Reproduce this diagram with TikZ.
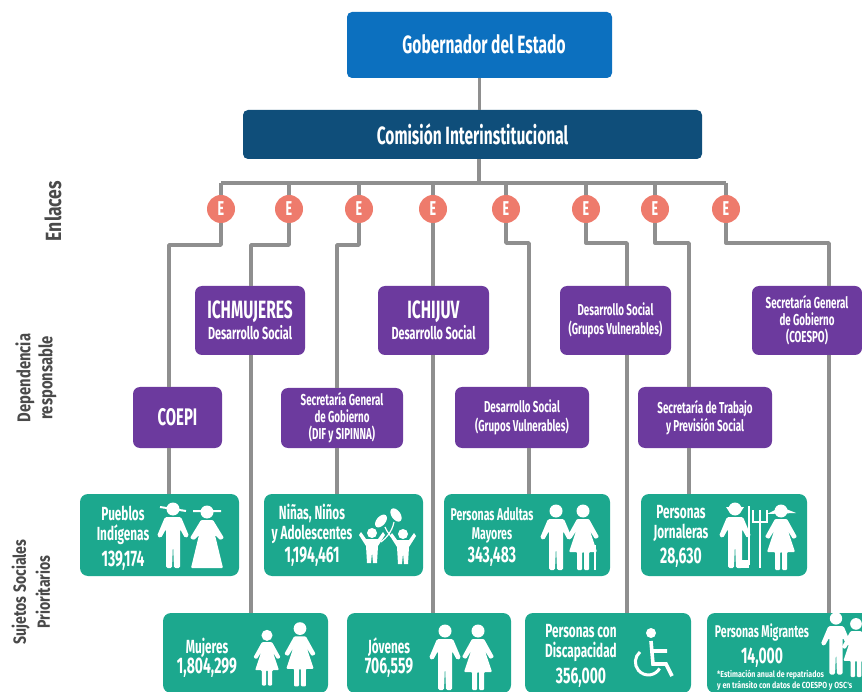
\documentclass[tikz,border=0pt]{standalone}
\usepackage{fontspec}
\setmainfont{Fira Sans}[FakeStretch=0.62]
\newfontfamily\anchofont{Fira Sans}[FakeStretch=0.8]
\newcommand{\cifra}[1]{{\fontsize{22.5}{24}\selectfont #1}}
\definecolor{azul}{HTML}{0C70BF}
\definecolor{marino}{HTML}{0F4E7A}
\definecolor{morado}{HTML}{6C3A9E}
\definecolor{verde}{HTML}{1CA88E}
\definecolor{salmon}{HTML}{EE7B6C}
\definecolor{linea}{HTML}{8F8F8F}
\definecolor{rotulo}{HTML}{4A4A4A}
\tikzset{
  jefe/.style={rounded corners=5pt, inner sep=0pt, text=white, font=\bfseries\fontsize{25}{28}\selectfont},
  dependencia/.style={fill=morado, rounded corners=7pt, inner sep=0pt, text=white, align=center, font=\bfseries\fontsize{15.8}{17}\selectfont},
  dosrenglones/.style={dependencia, font=\bfseries\fontsize{15.8}{18.5}\selectfont},
  titular/.style={dependencia, font=\bfseries\fontsize{17.5}{21}\selectfont},
  sujeto/.style={fill=verde, rounded corners=8pt, inner sep=0pt},
  sujetotxt/.style={text=white, align=center, font=\bfseries\fontsize{19}{20}\selectfont},
  enlace/.style={circle, fill=salmon, minimum size=28pt, inner sep=0pt, text=white, font=\bfseries\fontsize{20}{20}\selectfont},
  conector/.style={draw=linea, line width=3.4pt},
  rotulolado/.style={rotate=90, text=rotulo, align=center},
  pics/hombre/.style={code={
    \fill[white] (0,-29) circle (6.5);
    \fill[white, rounded corners=1.5pt] (-8,-21) -- (8,-21) -- (16,-2) -- (12,0) -- (7,-9) -- (7,30) -- (1,30) -- (0,5) -- (-1,30) -- (-7,30) -- (-7,-9) -- (-12,0) -- (-16,-2) -- cycle;
  }},
  pics/mujer/.style={code={
    \fill[white] (0,-29) circle (6.5);
    \fill[white, rounded corners=1pt] (-6,-21) -- (6,-21) -- (16,-3) -- (12,-1) -- (7,-9) -- (14,12) -- (6,12) -- (6,30) -- (1,30) -- (1,12) -- (-1,12) -- (-1,30) -- (-6,30) -- (-6,12) -- (-14,12) -- (-7,-9) -- (-12,-1) -- (-16,-3) -- cycle;
  }},
  pics/mujerlarga/.style={code={
    \fill[white] (0,-29) circle (6.5);
    \fill[white, rounded corners=1pt] (-6,-21) -- (6,-21) -- (17,-3) -- (13,-1) -- (8,-6) -- (16,27) -- (-16,27) -- (-8,-6) -- (-13,-1) -- (-17,-3) -- cycle;
  }},
  pics/nino/.style={code={
    \fill[white] (0,-11) circle (5);
    \fill[white] (-6,-5) -- (6,-5) -- (11,-12) -- (13,-9) -- (6,2) -- (5,19) -- (1,19) -- (0,8) -- (-1,19) -- (-5,19) -- (-6,2) -- (-13,-9) -- (-11,-12) -- cycle;
  }},
}
\begin{document}
\begin{tikzpicture}[x=1pt, y=-1pt]
\useasboundingbox (0,0) rectangle (862,692);
\clip (0,0) rectangle (862,692);

% Titulares
\node[jefe, fill=azul, minimum width=265, minimum height=66] (gobernador) at (479.5,45) {\raisebox{1.5pt}{\makebox[0pt]{\hspace{9pt}Gobernador del Estado}}};
\node[jefe, fill=marino, minimum width=459, minimum height=49] (comision) at (472.5,134.5) {Comisión Interinstitucional};
\coordinate (bus) at (479,183);

% Enlaces
\foreach \nombre/\px in {e1/221, e2/289, e3/359, e4/433, e5/506, e6/586, e7/655, e8/726}
  \node[enlace] (\nombre) at (\px,209) {E};

% Dependencias, primera fila
\node[titular, minimum width=110, minimum height=69] (ichmujeres) at (250,320.5) {{\fontsize{25}{26}\selectfont ICHMUJERES}\\Desarrollo Social};
\node[titular, minimum width=111, minimum height=69] (ichijuv) at (433.5,320.5) {{\fontsize{25}{26}\selectfont ICHIJUV}\\Desarrollo Social};
\node[dosrenglones, minimum width=111, minimum height=69] (grupos) at (615.5,320.5) {Desarrollo Social\\(Grupos Vulnerables)};
\node[dependencia, minimum width=110, minimum height=69] (coespo) at (807,320.5) {Secretaría General\\de Gobierno\\(COESPO)};

% Dependencias, segunda fila
\node[dependencia, minimum width=89, minimum height=61, font=\bfseries\fontsize{24}{26}\selectfont] (coepi) at (177.5,417.5) {COEPI};
\node[dependencia, minimum width=122, minimum height=60] (dif) at (342,418) {Secretaría General\\de Gobierno\\(DIF y SIPINNA)};
\node[dosrenglones, minimum width=134, minimum height=61] (gruposdos) at (522,417.5) {Desarrollo Social\\(Grupos Vulnerables)};
\node[dosrenglones, minimum width=134, minimum height=61] (trabajo) at (705,417.5) {Secretaría de Trabajo\\y Previsión Social};

% Sujetos, primera fila
\node[sujeto, minimum width=159, minimum height=82] (pueblos) at (159.5,535) {};
\node[sujeto, minimum width=159, minimum height=82] (ninos) at (343.5,535) {};
\node[sujeto, minimum width=166, minimum height=82] (adultas) at (527,535) {};
\node[sujeto, minimum width=166, minimum height=82] (jornaleras) at (724,535) {};

% Sujetos, segunda fila
\node[sujeto, minimum width=165, minimum height=80] (mujeres) at (245.5,653) {};
\node[sujeto, minimum width=164, minimum height=80] (jovenes) at (429,653) {};
\node[sujeto, minimum width=166, minimum height=80] (discapacidad) at (608,653) {};
\node[sujeto, minimum width=166, minimum height=80] (migrantes) at (790,653) {};

% Textos de los sujetos
\node[sujetotxt] (pueblostxt) at (123,538) {Pueblos\\Indígenas\\[6pt]\cifra{139,174}};
\node[sujetotxt] (ninostxt) at (312,535) {Niñas, Niños\\y Adolescentes\\[3pt]\cifra{1,194,461}};
\node[sujetotxt, font=\bfseries\fontsize{17}{19}\selectfont] (adultastxt) at (492,537) {Personas Adultas\\Mayores\\[3pt]\cifra{343,483}};
\node[sujetotxt] (jornalerastxt) at (681,536) {Personas\\Jornaleras\\[5pt]\cifra{28,630}};
\node[sujetotxt] (mujerestxt) at (207,658) {Mujeres\\\cifra{1,804,299}};
\node[sujetotxt] (jovenestxt) at (389,658) {Jóvenes\\\cifra{706,559}};
\node[sujetotxt] (discapacidadtxt) at (581,656) {Personas con\\Discapacidad\\[6pt]\cifra{356,000}};
\node[sujetotxt, font=\bfseries\fontsize{17}{20}\selectfont] (migrantestxt) at (762,646) {Personas Migrantes\\[6pt]\cifra{14,000}};
\node[text=white, anchor=west, align=left, inner sep=0pt, font=\anchofont\bfseries\fontsize{8.8}{11}\selectfont] (nota) at (717,680) {*Estimación anual de repatriados\\y en tránsito con datos de COESPO y OSC's};

% Rotulos
\node[rotulolado, font=\anchofont\bfseries\fontsize{22}{24}\selectfont] (enlaces) at (53,211) {Enlaces};
\node[rotulolado, font=\anchofont\bfseries\fontsize{18.5}{22}\selectfont] (responsable) at (36,378) {Dependencia\\responsable};
\node[rotulolado, font=\anchofont\bfseries\fontsize{17.6}{24}\selectfont] (prioritarios) at (31,592) {Sujetos Sociales\\Prioritarios};

% Quiebres de los conectores
\foreach \nombre/\px/\py in {c1/169/245, c2/251/245, c3/337/245, c4/433/245, c5/529/243, c6/627/243, c7/689/243, c8/829/243}
  \coordinate (\nombre) at (\px,\py);

% Conectores
\draw[conector] (gobernador) -- (comision.north -| gobernador);
\draw[conector] (comision.south -| bus) -- (bus);
\draw[conector] (e1 |- bus) -- (e8 |- bus);
\foreach \enl/\bend/\dep/\suj in {e1/c1/coepi/pueblos, e2/c2/ichmujeres/mujeres, e3/c3/dif/ninos, e4/c4/ichijuv/jovenes, e5/c5/gruposdos/adultas, e6/c6/grupos/discapacidad, e7/c7/trabajo/jornaleras, e8/c8/coespo/migrantes} {
  \draw[conector] (\enl |- bus) -- (\enl);
  \draw[conector, line join=round] (\enl) |- (\bend) -- (\dep.north -| \bend);
  \draw[conector] (\dep.south -| \bend) -- (\suj.north -| \bend);
}

% Pueblos indigenas
\pic at (173,538) {hombre};
\pic at (207,541) {mujerlarga};
\draw[white, line width=2pt] (160,507) -- (186,511) (193,511) -- (221,511);

% Ninas, ninos
\pic at (372,544) {nino};
\pic at (403,545) {nino};
\fill[white, rotate around={-40:(381,521)}] (381,521) ellipse (4.5 and 7.5);
\fill[white, rotate around={35:(396,515)}] (396,515) ellipse (4.5 and 7.5);
\draw[white, line width=1.2pt] (385,527) .. controls (388,534) and (392,538) .. (397,541) (394,522) .. controls (392,532) and (386,538) .. (381,542);

% Mujeres
\pic at (267,660) [scale=0.85] {mujer};
\pic at (300,657) [scale=0.98] {mujer};

% Jovenes
\pic at (445,660) {hombre};
\pic at (478,660) {mujer};

% Adultos mayores
\pic at (556,540) {hombre};
\pic at (583,540) {mujer};
\draw[white, line width=2pt] (595,545) -- (595,570);

% Jornaleros
\pic at (735,538) {hombre};
\fill[white] (726,507) -- (744,507) -- (740,513) -- (730,513) -- cycle;
\fill[white] (741,560) rectangle (749,568);
\draw[white, line width=1.5pt] (749,506) -- (749,565);
\draw[white, line width=1.5pt] (760,568) -- (760,518) (753,510) -- (753,522) -- (767,522) -- (767,510) (760,510) -- (760,518);
\pic at (781,540) {mujer};
\fill[white] (767,514) -- (781,507) -- (796,513) -- cycle;

% Silla de ruedas
\fill[white] (651,633) circle (5);
\draw[white, line width=3.6pt] (651,641) -- (653,664) -- (666,664) -- (672,676) (652,651) -- (667,651);
\draw[white, line width=3pt] (640,652) arc[start angle=230, end angle=30, radius=13];

% Migrantes
\pic at (836,646) [scale=0.95] {hombre};
\pic at (856,650) [scale=0.9] {mujer};
\end{tikzpicture}
\end{document}
